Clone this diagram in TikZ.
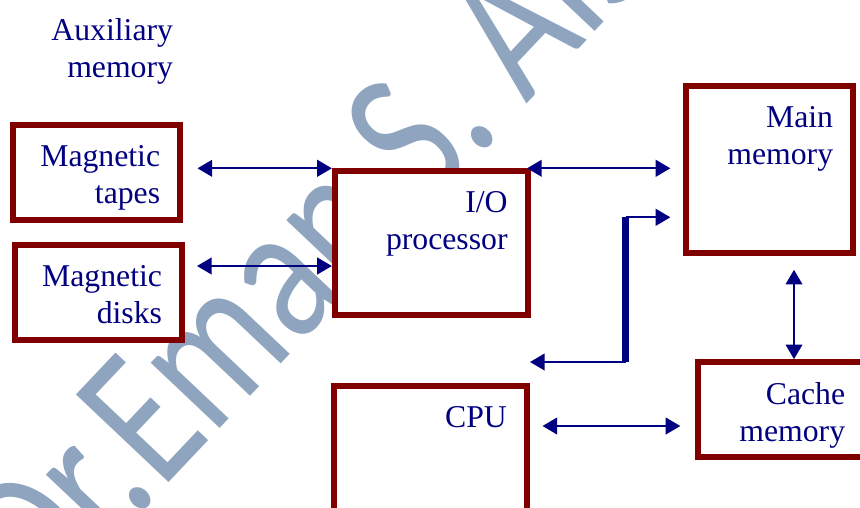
\documentclass[tikz,border=0pt]{standalone}
\usepackage{fontspec}
\setmainfont{Liberation Serif}
\newfontfamily\stampfont{Carlito}
\usetikzlibrary{arrows.meta,calc}
\definecolor{boxRed}{HTML}{800000}
\definecolor{textNavy}{HTML}{000080}
\definecolor{stampGrey}{HTML}{8FA5BF}

\begin{document}
\begin{tikzpicture}[
      x=0.75pt, y=-0.75pt,
      box/.style={rectangle, draw=boxRed, line width=4.5pt, fill=white, inner sep=0pt},
      smallbox/.style={box, minimum width=125.5pt, minimum height=71pt},
      bigbox/.style={box, minimum width=144.5pt, minimum height=108pt},
      txt/.style={text=textNavy, align=right, inner sep=0pt,
                  font=\fontsize{23.8}{27.5}\selectfont},
      lbl/.style={txt, anchor=north east, xshift=-17pt, yshift=-17.5pt},
      link/.style={draw=textNavy, line width=1.5pt, <->},
      stamp/.style={text=stampGrey, inner sep=0pt, font=\stampfont\fontsize{105}{105}\selectfont},
      >={Triangle[length=11pt,width=12.5pt]}
    ]
    \useasboundingbox (0,0) rectangle (860,507);

    % watermark behind everything
    \node[stamp, rotate=46.6, anchor=base west] (watermark) at (43,616) {\scalebox{1.1}[1.42]{Dr.Eman S. Als}};

    \node[txt, anchor=north east] (aux) at (173.3,18.3) {Auxiliary\\memory};

    \node[smallbox, label={[lbl]north east:Magnetic\\tapes}] (tapes) at (96.4,172.7) {};
    \node[smallbox, label={[lbl]north east:Magnetic\\disks}] (disks) at (98.3,292.5) {};
    \node[bigbox, label={[lbl]north east:I/O\\processor}] (io) at (431.2,243.3) {};
    \node[bigbox, label={[lbl]north east:CPU}] (cpu) at (430.5,458.3) {};
    \node[box, minimum width=125pt, minimum height=125pt,
          label={[lbl]north east:Main\\memory}] (main) at (769.7,169.7) {};
    \node[smallbox, label={[lbl]north east:Cache\\memory}] (cache) at (781.4,409.5) {};

    \coordinate (diskport) at ($(disks.east)+(0,-26.5)$);
    \coordinate (mainport) at ($(main.south)+(24.3,0)$);
    \coordinate (cpuport) at ($(cpu.east)+(0,-32.3)$);
    \coordinate (bustop) at (625.7,217.3);
    \coordinate (busbot) at (625.7,362);
    \coordinate (busend) at (530,362);

    \draw[link, shorten <=10.8pt] (tapes.east |- io.north west) -- (io.north west);
    \draw[link, shorten <=9pt] (diskport) -- (io.west |- diskport);
    \draw[link, shorten <=-2.6pt, shorten >=9.75pt] (io.north east) -- (main.west |- io.north east);
    \draw[link, shorten <=10.3pt] (mainport) -- (mainport |- cache.north);
    \draw[link, shorten <=9.5pt, shorten >=10.8pt] (cpuport) -- (cpuport -| cache.west);

    % bus to main memory
    \draw[textNavy, line width=5.2pt] (bustop) -- (busbot);
    \draw[link, ->, shorten >=9.75pt] (bustop) -- (main.west |- bustop);
    \draw[link, ->] (busbot) -- (busend);
  \end{tikzpicture}
\end{document}
